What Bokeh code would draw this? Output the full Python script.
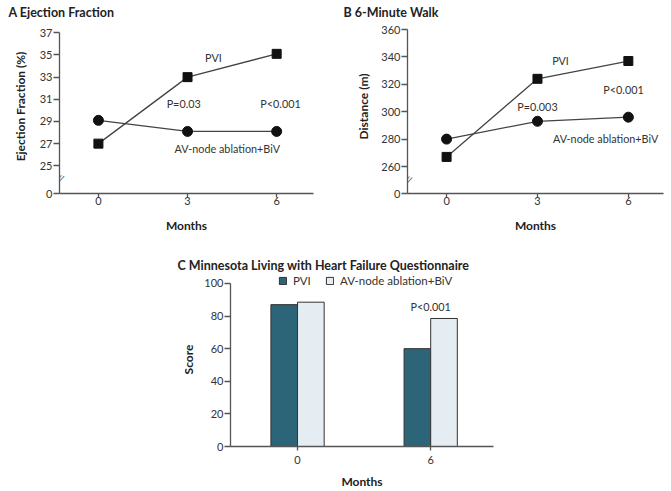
from bokeh.plotting import figure
from bokeh.layouts import column, row
from bokeh.models import (ColumnDataSource, FixedTicker, Label, Legend,
                          LegendItem, Spacer)
from bokeh.transform import dodge
from bokeh.embed import file_html
from bokeh.resources import INLINE

# ---------------- data ----------------
months = [0, 3, 6]
ef_pvi = [27.0, 33.0, 35.1]
ef_biv = [29.1, 28.1, 28.1]
walk_pvi = [267, 324, 337]
walk_biv = [280, 293, 296]

q_months = [0, 6]
q_pvi = [87, 60]
q_biv = [88.5, 78.5]

ef_ticks = [25, 27, 29, 31, 33, 35, 37]
walk_ticks = [260, 280, 300, 320, 340, 360]
q_ticks = [0, 20, 40, 60, 80, 100]
x_ticks_line = [0, 3, 6]

FONT = "Lato"
AXIS_COLOR = "#555555"
TEXT_COLOR = "#333333"
PVI_COLOR = "#2c6478"
BIV_COLOR = "#e5edf2"
NOTE_SIZE = "10.8px"


def style_axes(p, ylabel, ylabel_standoff, xlab_standoff, xaxis_standoff):
    p.outline_line_color = None
    p.grid.grid_line_color = None
    p.background_fill_color = None
    p.border_fill_color = None
    for ax in (p.xaxis[0], p.yaxis[0]):
        ax.axis_line_color = AXIS_COLOR
        ax.axis_line_width = 1.3
        ax.major_tick_line_color = AXIS_COLOR
        ax.major_tick_line_width = 1.3
        ax.minor_tick_line_color = None
        ax.major_tick_in = 0
        ax.major_label_text_font = FONT
        ax.major_label_text_font_size = "11px"
        ax.major_label_text_color = TEXT_COLOR
        ax.axis_label_text_font = FONT
        ax.axis_label_text_font_style = "bold"
        ax.axis_label_text_font_size = "12px"
        ax.axis_label_text_color = "#222222"
    p.xaxis.major_tick_out = 4
    p.xaxis.major_label_standoff = xlab_standoff
    p.xaxis.axis_label = "Months"
    p.xaxis.axis_label_standoff = xaxis_standoff
    p.yaxis.major_tick_out = 6
    p.yaxis.major_label_standoff = 1
    p.yaxis.axis_label = ylabel
    p.yaxis.axis_label_standoff = ylabel_standoff


def set_title(p, text, offset, standoff):
    p.title.text = text
    p.title.align = "left"
    p.title.offset = offset
    p.title.standoff = standoff
    p.title.text_font = FONT
    p.title.text_font_size = "12.5px"
    p.title.text_font_style = "bold"
    p.title.text_color = "#222222"


def add_text(p, x, y, text):
    p.add_layout(Label(x=x, y=y, text=text, text_align="center",
                       text_baseline="middle", text_font=FONT,
                       text_font_size=NOTE_SIZE, text_color=TEXT_COLOR))


def line_panel(title, title_offset, ylabel, ylabel_standoff, pvi, biv, ticks,
               y_zero, y_top, y_break, x_range, width, height, bl, br, bt, bb,
               notes):
    p = figure(width=width, height=height, x_range=x_range,
               y_range=(y_zero, y_top), toolbar_location=None,
               output_backend="svg", min_border_left=bl, min_border_right=br,
               min_border_top=bt, min_border_bottom=bb)
    style_axes(p, ylabel, ylabel_standoff, -1, 10)
    p.yaxis.bounds = (y_zero, ticks[-1])
    p.xaxis.ticker = FixedTicker(ticks=x_ticks_line)
    p.yaxis.ticker = FixedTicker(ticks=[y_zero] + ticks)
    p.yaxis.major_label_overrides = {y_zero: "0"}
    src = ColumnDataSource(dict(m=months, pvi=pvi, biv=biv))
    p.line("m", "pvi", source=src, line_color="#444444", line_width=1.3)
    p.line("m", "biv", source=src, line_color="#444444", line_width=1.3)
    p.scatter("m", "pvi", source=src, marker="square", size=9,
              fill_color="#111111", line_color="#111111")
    p.scatter("m", "biv", source=src, marker="circle", size=10,
              fill_color="#111111", line_color="#111111")
    # axis break marks
    p.add_layout(Label(x=x_range[0], y=y_break, text="//", text_align="center",
                       text_baseline="middle", text_font=FONT, angle=-0.35,
                       text_font_size="12px", text_color=AXIS_COLOR,
                       level="overlay"))
    for (x, y, t) in notes:
        add_text(p, x, y, t)
    set_title(p, title, title_offset, 0)
    return p


pA = line_panel("A  Ejection Fraction", -51, "Ejection Fraction (%)", 9,
                ef_pvi, ef_biv, ef_ticks, 22.5, 38.2, 23.8, (-1.31, 7.24),
                338, 240, 59, 25, 19, 47,
                [(3.87, 34.75, "PVI"), (2.87, 30.6, "P=0.03"),
                 (6.13, 30.6, "P<0.001"), (4.34, 26.55, "AV-node ablation+BiV")])

pB = line_panel("B  6-Minute Walk", -64, "Distance (m)", 7,
                walk_pvi, walk_biv, walk_ticks, 240.3, 367.3, 249.8,
                (-1.29, 7.16), 333, 240, 69, 8, 19, 47,
                [(3.76, 337.4, "PVI"), (3.0, 303.8, "P=0.003"),
                 (5.84, 316.0, "P<0.001"), (5.25, 280.4, "AV-node ablation+BiV")])

# ---------------- panel C ----------------
pC = figure(width=343, height=251, x_range=(-3.02, 8.83), y_range=(0, 106.7),
            toolbar_location=None, output_backend="svg", min_border_left=60,
            min_border_right=20, min_border_top=32, min_border_bottom=43)
style_axes(pC, "Score", 5, 5, 7)
pC.yaxis.bounds = (0, 100)
pC.xaxis.ticker = FixedTicker(ticks=q_months)
pC.yaxis.ticker = FixedTicker(ticks=q_ticks)
srcC = ColumnDataSource(dict(m=q_months, pvi=q_pvi, biv=q_biv))
r1 = pC.vbar(x=dodge("m", -0.6, range=pC.x_range), top="pvi", width=1.2,
             source=srcC, fill_color=PVI_COLOR, line_color="#333333",
             line_width=1)
r2 = pC.vbar(x=dodge("m", 0.6, range=pC.x_range), top="biv", width=1.2,
             source=srcC, fill_color=BIV_COLOR, line_color="#333333",
             line_width=1)
add_text(pC, 6, 85.6, "P<0.001")
legend = Legend(items=[LegendItem(label="PVI", renderers=[r1]),
                       LegendItem(label="AV-node ablation+BiV", renderers=[r2])],
                orientation="horizontal", location=(48, 159),
                label_text_font=FONT, label_text_font_size="11.5px",
                label_text_color=TEXT_COLOR, glyph_width=9, glyph_height=9,
                label_height=12, label_width=20, label_standoff=6, spacing=12,
                padding=0, margin=0, background_fill_alpha=0,
                border_line_color=None)
pC.add_layout(legend)
set_title(pC, "C  Minnesota Living with Heart Failure Questionnaire", -53, 0)

layout = column(row(pA, pB), row(Spacer(width=170, height=251), pC))

open("out.html", "w").write(file_html(layout, INLINE))
